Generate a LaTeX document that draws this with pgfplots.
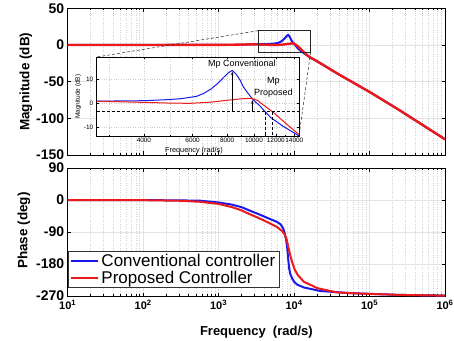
\documentclass[border=0pt]{standalone}
\usepackage{pgfplots}
\pgfplotsset{compat=1.18}
\usepackage{pgfplotstable}
\usepackage{fontspec}
\setmainfont{Liberation Sans}
\usetikzlibrary{arrows.meta}
\definecolor{mblue}{RGB}{25,25,235}
\definecolor{mred}{RGB}{235,25,25}

\pgfplotstableread{
f mag
10 0
100 0
1000 0.05
2000 0.3
2700 0.9
4000 1.1
5000 1.6
5500 2.0
6200 2.9
6600 4.2
7000 6.0
7400 8.3
7800 11.0
8100 12.8
8350 13.7
8600 12.3
8900 9.8
9140 7.0
9500 4.3
9950 1.4
10500 -1.0
10960 -3.4
11500 -5.9
12770 -9.6
14290 -13.0
14560 -13.6
16200 -16.8
20000 -22
40500 -41
100000 -64
250000 -89
1000000 -128.6
}\magblue

\pgfplotstableread{
f mag
10 0
100 0
1000 0.1
2000 0.5
2700 0.9
4000 0.4
5000 0.1
5870 0
7000 0.5
8190 1.4
9000 1.9
9820 2.1
10300 1.2
10800 -0.6
11650 -3.4
12420 -6.2
13300 -9.2
14560 -13.0
16200 -16.8
20000 -22
40500 -41
100000 -64
250000 -89
1000000 -128.6
}\magred

\pgfplotstableread{
f ph
10 0
100 -0.3
300 -1
565 -2
1000 -7
1500 -13
2000 -20
2600 -30
3500 -41
4500 -51
5860 -61
6600 -68
7180 -80
7550 -96
7850 -112
8110 -135
8350 -165
8600 -192
8900 -208
9500 -222
10000 -230
11000 -238
13500 -246
22400 -256
56000 -262
260000 -267
1000000 -269
}\phblue

\pgfplotstableread{
f ph
10 0
100 -0.5
300 -2
565 -5
1000 -11
1500 -20
2000 -29
2600 -40
3500 -52
4500 -63
5860 -75
7000 -88
7550 -98
8000 -112
8350 -131
9000 -160
9550 -178
10200 -196
11200 -211
13500 -230
20400 -248
37000 -260
93000 -264
260000 -267
1000000 -269
}\phred

\begin{document}
\begin{tikzpicture}
\useasboundingbox (0pt,0pt) rectangle (454pt,340pt);

% Magnitude
\begin{axis}[at={(67.7pt,185pt)}, anchor=south west,
  width=377.3pt, height=146.7pt, scale only axis,
  xmode=log, xmin=10, xmax=1000000,
  grid=both,
  major grid style={gray!22, line width=0.5pt},
  minor grid style={gray!35, dotted, line width=0.5pt},
  tick align=inside, xtick pos=both, ytick pos=both,
  major tick length=3.5pt, minor tick length=2pt,
  tick style={black, line width=0.5pt},
  axis line style={black, line width=0.6pt},
  xtick={10,100,1000,10000,100000,1000000},
  xticklabels={},
  ymin=-150, ymax=50, ytick={-150,-100,-50,0,50},
  yticklabels={-150,-100,-50,0,50},
  yticklabel style={font=\fontsize{14}{14}\selectfont\bfseries},
  ylabel={Magnitude (dB)},
  ylabel style={font=\fontsize{13.5}{14}\selectfont\bfseries, at={(axis description cs:-0.1105,0.5)}, anchor=center},
]
\addplot[mblue, line width=2pt] table[x=f,y=mag] {\magblue};
\addplot[mred, line width=2.4pt] table[x=f,y=mag] {\magred};
\draw[gray!30!black, line width=0.5pt] (axis cs:3350,19.5) rectangle (axis cs:16560,-10);
\coordinate (rtl) at (axis cs:3350,19.5);
\coordinate (rbr) at (axis cs:16560,-10);
\end{axis}

% Inset
\begin{axis}[name=inset, at={(96.7pt,204pt)}, anchor=south west,
  width=202.3pt, height=79pt, scale only axis,
  xmode=log, xmin=2700, xmax=14560, ymin=-13.6, ymax=19.3,
  axis background/.style={fill=white},
  xtick={4000,6000,8000,10000,12000,14000},
  xticklabels={4000,6000,8000,10000,12000,14000},
  minor xtick={3000,5000,7000,9000,11000,13000},
  ytick={-10,0,10}, yticklabels={-10,0,10},
  grid=both,
  major grid style={gray!40, dotted, line width=0.4pt},
  minor grid style={gray!40, dotted, line width=0.4pt},
  tick align=inside, xtick pos=both, ytick pos=both,
  major tick length=2pt, minor tick length=1.2pt,
  tick style={black, line width=0.4pt},
  axis line style={black, line width=0.5pt},
  ticklabel style={font=\fontsize{6.4}{7}\selectfont},
  xticklabel style={yshift=1pt},
  xlabel={Frequency (rad/s)}, ylabel={Magnitude (dB)},
  xlabel style={font=\fontsize{7.3}{8}\selectfont, at={(axis description cs:0.481,-0.19)}, anchor=center},
  ylabel style={font=\fontsize{6.5}{7}\selectfont, at={(axis description cs:-0.091,0.497)}, anchor=center},
]
\addplot[mblue, line width=1pt] table[x=f,y=mag] {\magblue};
\addplot[mred, line width=1pt] table[x=f,y=mag] {\magred};
\draw[black, dash pattern=on 3pt off 2pt, line width=0.8pt] (axis cs:2700,-3.4) -- (axis cs:14560,-3.4);
\draw[black, dash pattern=on 3pt off 2pt, line width=0.8pt] (axis cs:10960,-3.4) -- (axis cs:10960,-13.6);
\draw[black, dash pattern=on 3pt off 2pt, line width=0.8pt] (axis cs:11650,-3.4) -- (axis cs:11650,-13.6);
\draw[black, line width=0.5pt, -{Stealth[length=3.5pt,width=2.5pt]}] (axis cs:8350,-3.4) -- (axis cs:8350,13.2);
\draw[black, line width=0.5pt, -{Stealth[length=3.5pt,width=2.5pt]}] (axis cs:9870,-3.4) -- (axis cs:9870,1.3);
\node[font=\fontsize{9}{10}\selectfont, inner sep=0pt] at (axis cs:9040,16.4) {Mp Conventional};
\node[font=\fontsize{9}{10}\selectfont, inner sep=0pt] at (axis cs:11750,9.0) {Mp};
\node[font=\fontsize{9}{10}\selectfont, inner sep=0pt] at (axis cs:11750,4.2) {Proposed};
\end{axis}
\draw[gray!30!black, dash pattern=on 3pt off 2pt, line width=0.5pt] (rtl) -- (inset.north west);
\draw[gray!30!black, dash pattern=on 3pt off 2pt, line width=0.5pt] (rbr) -- (inset.south east);

% Phase
\begin{axis}[at={(67.7pt,44pt)}, anchor=south west,
  width=377.3pt, height=128pt, scale only axis,
  xmode=log, xmin=10, xmax=1000000,
  grid=both,
  major grid style={gray!22, line width=0.5pt},
  minor grid style={gray!35, dotted, line width=0.5pt},
  tick align=inside, xtick pos=both, ytick pos=both,
  major tick length=3.5pt, minor tick length=2pt,
  tick style={black, line width=0.5pt},
  axis line style={black, line width=0.6pt},
  xtick={10,100,1000,10000,100000,1000000},
  ymin=-270, ymax=90, ytick={-270,-180,-90,0,90},
  yticklabels={-270,-180,-90,0,90},
  yticklabel style={font=\fontsize{14}{14}\selectfont\bfseries},
  xticklabels={10\textsuperscript{1},10\textsuperscript{2},10\textsuperscript{3},10\textsuperscript{4},10\textsuperscript{5},10\textsuperscript{6}},
  xticklabel style={font=\fontsize{11}{11}\selectfont\bfseries, yshift=-1pt},
  ylabel={Phase (deg)},
  ylabel style={font=\fontsize{13.5}{14}\selectfont\bfseries, at={(axis description cs:-0.116,0.51)}, anchor=center},
  xlabel={Frequency\ \ (rad/s)},
  xlabel style={font=\fontsize{13}{14}\selectfont\bfseries, at={(axis description cs:0.5,-0.285)}, anchor=center},
  legend style={at={(axis description cs:0.001,0.0625)}, anchor=south west,
    font=\fontsize{17}{19}\selectfont, draw=gray!40!black, line width=0.8pt,
    inner xsep=2pt, inner ysep=1pt, row sep=-1pt},
  legend cell align=left,
  legend image code/.code={\draw[#1] (0pt,0pt) -- (27pt,0pt);},
]
\addplot[mblue, line width=2pt] table[x=f,y=ph] {\phblue};
\addlegendentry{Conventional controller}
\addplot[mred, line width=2pt] table[x=f,y=ph] {\phred};
\addlegendentry{Proposed Controller}
\end{axis}
\end{tikzpicture}
\end{document}
